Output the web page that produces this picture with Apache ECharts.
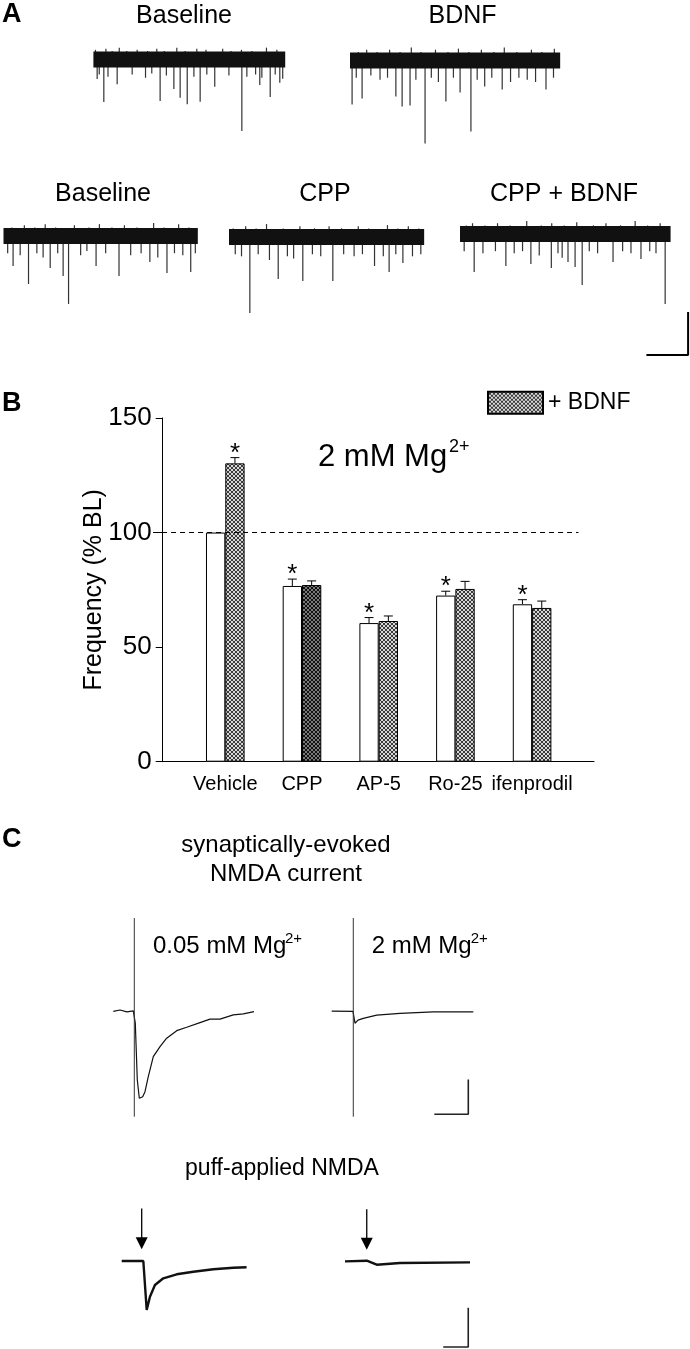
<!DOCTYPE html>
<html>
<head>
<meta charset="utf-8">
<script src="https://cdn.jsdelivr.net/npm/echarts@6/dist/echarts.min.js"></script>
<style>
  html, body { margin: 0; padding: 0; background: #fff; }
  #chart { width: 690px; height: 1349px; }
</style>
</head>
<body>
<div id="chart"></div>
<script>
const FONT = "'Liberation Sans', Arial, Helvetica, sans-serif";

// ---------- Panel B: frequency (% baseline) ----------
const groups = ['Vehicle', 'CPP', 'AP-5', 'Ro-25', 'ifenprodil'];
const ctrlMean = [100, 76.7, 60.5, 72.5, 68.7];
const ctrlErr = [0, 3.0, 2.4, 1.9, 2.0];
const bdnfMean = [130.2, 77.1, 61.4, 75.4, 67.1];
const bdnfErr = [2.5, 1.8, 2.2, 3.3, 3.0];
const ctrlStar = [0, 1, 1, 1, 1];
const bdnfStar = [1, 0, 0, 0, 0];
const yTicks = [0, 50, 100, 150];

// ---------- Panel A: sEPSC traces, [time s, amplitude pA] ----------
const aNames = ['Baseline', 'BDNF', 'Baseline', 'CPP', 'CPP + BDNF'];
const aLength = [4.6, 5.04, 4.66, 4.68, 5.05];
const aEvents1 = [[0.09,-9.1],[0.25,-19.8],[0.57,-11.5],[1.60,-19.3],[1.93,-13.7],[2.08,-17.8],[2.25,-20.8],[2.56,-19.6],[2.91,-12.7],[3.56,-33.3],[3.99,-11.9],[4.24,-17.4],[4.47,-10.8],
  [0.14,-7],[0.35,-8],[0.93,-7],[1.25,-8.5],[1.40,-6.5],[1.75,-7.5],[2.41,-8],[2.72,-7],[3.25,-7.5],[3.68,-8],[3.89,-7],[4.04,-8.5],[4.36,-7],[4.54,-9],
  [0.05,4.5],[0.30,5],[0.45,4],[0.62,5.5],[0.80,4],[1.05,4.5],[1.30,4],[1.52,5],[1.70,4],[2.00,5.5],[2.20,4],[2.48,5],[2.70,4.5],[3.10,5],[3.30,4],[3.55,4.5],[3.80,4],[4.15,5.5],[4.40,4.5]];
const aEvents2 = [[0.05,-20.5],[0.29,-17.7],[1.10,-16.7],[1.25,-21.4],[1.44,-20.9],[1.80,-38.6],[2.30,-19.1],[2.64,-14.9],[2.90,-33.0],[3.23,-12.1],[3.65,-13.5],[4.70,-13.5],
  [0.15,-8],[0.50,-7],[0.72,-9],[0.90,-8],[1.58,-9],[1.95,-8],[2.12,-10],[2.48,-8],[3.05,-9],[3.40,-8],[3.85,-10],[4.05,-8],[4.25,-9],[4.45,-10],[4.88,-8],
  [0.20,4],[0.40,5],[0.65,4],[0.95,5],[1.20,4],[1.47,6],[1.70,4],[2.05,5],[2.35,4],[2.60,5.5],[2.85,4],[3.15,5],[3.45,4],[3.70,6],[4.00,4],[4.35,5],[4.60,4],[4.90,5.5]];
const aEvents3 = [[0.23,-14.0],[0.60,-22.3],[1.12,-14.9],[1.43,-18.6],[1.56,-31.6],[2.22,-14.0],[2.77,-18.6],[3.51,-12.1],[3.92,-17.2],[4.49,-16.7],
  [0.10,-8],[0.40,-9],[0.80,-8],[0.95,-10],[1.30,-8],[1.85,-9],[2.00,-7],[2.45,-8],[3.05,-9],[3.30,-8],[3.70,-10],[4.10,-8],[4.30,-9],[4.60,-8],
  [0.20,4],[0.50,5],[0.75,4],[1.00,5.5],[1.25,4],[1.70,5],[2.05,4],[2.30,5.5],[2.60,4],[2.90,5],[3.20,4],[3.60,6],[3.85,4],[4.20,5.5],[4.45,4]];
const aEvents4 = [[0.50,-35.3],[0.97,-10.7],[1.18,-19.5],[1.77,-20.5],[2.49,-20.5],[3.49,-13.5],[3.84,-16.3],[4.17,-12.1],
  [0.15,-8],[0.30,-9],[0.70,-8],[1.40,-9],[1.55,-10],[2.00,-8],[2.20,-9],[2.75,-8],[3.00,-9],[3.20,-8],[3.70,-9],[4.00,-8],[4.40,-9],[4.60,-8],
  [0.10,4],[0.40,5],[0.65,4],[0.90,6],[1.30,4],[1.70,5],[2.05,4],[2.40,5],[2.70,4],[3.10,5],[3.35,4],[3.80,5.5],[4.05,4],[4.30,5],[4.55,4]];
const aEvents5 = [[0.34,-17.7],[1.10,-14.9],[1.70,-14.0],[2.19,-15.8],[2.59,-13.0],[2.76,-15.3],[2.93,-23.7],[3.67,-13.0],[4.34,-11.6],[4.92,-32.6],
  [0.10,-8],[0.55,-9],[0.85,-8],[1.30,-9],[1.50,-8],[1.90,-10],[2.35,-9],[2.45,-11],[3.10,-8],[3.30,-9],[3.90,-8],[4.10,-9],[4.55,-8],[4.70,-9],
  [0.15,4],[0.30,5],[0.60,4],[0.90,5],[1.20,4],[1.60,6],[1.95,4],[2.20,5],[2.50,4],[2.80,5.5],[3.20,4],[3.50,5],[3.85,4],[4.20,6],[4.50,4],[4.80,5]];
const aScaleBar = [[4.47,-56.3],[5.47,-56.3],[5.47,-36.3]]; // 1 s, 20 pA

// ---------- Panel C: evoked NMDA currents [ms, pA] ----------
const evLowMg = [[0,0],[19.7,2],[40,-0.7],[58.8,0.7],[64.7,-17],[70.6,-98.7],[76.5,-125],[86.5,-122.8],[93.2,-115.6],[102.9,-94],[117.6,-65.1],[137.4,-50.7],[157,-38.6],[186.5,-27.7],[215.9,-22.8],[255,-16.1],[284.4,-11.2],[313.8,-11.2],[352.9,-5.0],[382.4,-3.6],[413.8,-0.3]];
const evHighMg = [[0,0.4],[62.6,0],[68.5,-17],[77.4,-12.5],[92.9,-10],[132.4,-5.3],[200.9,-2.9],[298.8,-0.6],[416.5,-0.6]];
const evArtifact = [[134.5,-151.6]];
const evStim = [61.8, 63.5];
const evScaleBar = [[301.8,-148],[401.8,-148],[401.8,-98]]; // 100 ms, 50 pA

// puff-applied NMDA [s, pA]
const puffLowMg = [[0,0],[1.73,0],[2.0,-124.4],[2.26,-90.6],[2.66,-60.9],[3.33,-43.9],[4.4,-33.8],[5.73,-27.2],[7.33,-21.1],[8.93,-17.0],[9.99,-16.0]];
const puffHighMg = [[0,0],[1.74,1.8],[2.54,-8.4],[4.4,-4.1],[10.0,-2.5]];
const puffTime = [1.6, 1.74];
const puffScaleBar = [[7.86,-218.3],[9.86,-218.3],[9.86,-118.3]]; // 2 s, 100 pA

// ---------- helpers ----------
function hatch(bg, fg) {
  const c = document.createElement('canvas');
  c.width = 4; c.height = 4;
  const g = c.getContext('2d');
  g.fillStyle = bg; g.fillRect(0, 0, 4, 4);
  g.fillStyle = fg;
  [[0,0],[1,1],[2,2],[3,3],[3,0],[2,1],[1,2],[0,3]].forEach(p => g.fillRect(p[0], p[1], 1, 1));
  return { image: c, repeat: 'repeat' };
}
const hatchGrey = hatch('#d8d8d8', '#3a3a3a');
const hatchDark = hatch('#7a7a7a', '#111111');

const grids = [], xAxes = [], yAxes = [], series = [];
function addGrid(rect, xr, yr) {
  const i = grids.length;
  grids.push({ left: rect[0], top: rect[1], width: rect[2], height: rect[3] });
  xAxes.push({ gridIndex: i, type: 'value', min: xr[0], max: xr[1], show: false });
  yAxes.push({ gridIndex: i, type: 'value', min: yr[0], max: yr[1], show: false });
  return i;
}
function line(i, data, width, color) {
  series.push({ type: 'line', xAxisIndex: i, yAxisIndex: i, data: data, showSymbol: false, symbol: 'none',
    clip: false, silent: true, lineStyle: { width: width, color: color || '#111' } });
}

// ---------- Panel A grids (41.7 px/s, 2.15 px/pA) ----------
const aRects = [[93.4, 45.5, 192.1, 100], [350, 46.5, 210.2, 100], [3.5, 222, 194.3, 100], [229, 223, 195.2, 100], [460, 220, 228.3, 143]];
const aY = [[-40, 6.5], [-40, 6.5], [-40, 6.5], [-40, 6.5], [-60, 6.5]];
const aEvents = [aEvents1, aEvents2, aEvents3, aEvents4, aEvents5];
aRects.forEach((r, k) => {
  const i = addGrid(r, [0, r[2] / 41.7], aY[k]);
  line(i, [[0, 0], [aLength[k], 0]], 16, '#111');
  series.push({ type: 'bar', xAxisIndex: i, yAxisIndex: i, data: aEvents[k], barWidth: 1.2, barGap: '-100%',
    silent: true, itemStyle: { color: '#333' } });
  if (k === 4) line(i, aScaleBar, 2, '#000');
});

// ---------- Panel B bar chart ----------
const bi = grids.length;
grids.push({ left: 162.7, top: 418, width: 431.3, height: 343.7 });
xAxes.push({
  gridIndex: bi, type: 'value', min: -0.816, max: 4.807,
  axisLine: { show: true, onZero: false, lineStyle: { color: '#000', width: 1 } },
  axisTick: { show: false }, splitLine: { show: false },
  axisLabel: { customValues: [0, 1, 2, 3, 4], formatter: v => groups[Math.round(v)],
    color: '#000', fontSize: 20, fontFamily: FONT, margin: 13 }
});
yAxes.push({
  gridIndex: bi, type: 'value', min: 0, max: 150, interval: 50,
  axisLine: { show: true, onZero: false, lineStyle: { color: '#000', width: 1 } },
  axisTick: { show: true, length: 7, lineStyle: { color: '#000' } },
  splitLine: { show: false },
  axisLabel: { customValues: yTicks, color: '#000', fontSize: 26, fontFamily: FONT, margin: 11 },
  name: 'Frequency (% BL)', nameLocation: 'middle', nameGap: 56, nameMoveOverlap: false,
  nameTextStyle: { color: '#000', fontSize: 25, fontFamily: FONT }
});
const BW = 19.3;
series.push({
  type: 'bar', name: 'Control', xAxisIndex: bi, yAxisIndex: bi, barWidth: BW, barGap: '0%',
  data: ctrlMean.map((v, i) => [i, v]),
  itemStyle: { color: '#fff', borderColor: '#000', borderWidth: 1 },
  markLine: { silent: true, symbol: 'none', label: { show: false },
    lineStyle: { color: '#000', type: [5, 4], width: 1 },
    data: [[{ coord: [-0.816, 100] }, { coord: [4.73, 100] }]] }
});
series.push({
  type: 'bar', name: '+ BDNF', xAxisIndex: bi, yAxisIndex: bi, barWidth: BW, barGap: '0%',
  data: bdnfMean.map((v, i) => i === 1 ? { value: [i, v], itemStyle: { color: hatchDark } } : [i, v]),
  itemStyle: { color: hatchGrey, borderColor: '#000', borderWidth: 1 }
});
function errSeries(mean, err, star, side) {
  series.push({
    type: 'custom', xAxisIndex: bi, yAxisIndex: bi, silent: true, clip: false,
    data: mean.map((v, i) => [i, v, err[i], star[i]]),
    renderItem: (params, api) => {
      const x = api.value(0), m = api.value(1), e = api.value(2), s = api.value(3);
      const p0 = api.coord([x, m]);
      const p1 = api.coord([x, m + e]);
      const cx = p0[0] + side * BW / 2;
      const kids = [];
      if (e > 0) {
        kids.push({ type: 'line', shape: { x1: cx, y1: p0[1], x2: cx, y2: p1[1] }, style: { stroke: '#000', lineWidth: 1 } });
        kids.push({ type: 'line', shape: { x1: cx - 4.5, y1: p1[1], x2: cx + 4.5, y2: p1[1] }, style: { stroke: '#000', lineWidth: 1 } });
      }
      if (s) {
        kids.push({ type: 'text', x: cx, y: p1[1] - 4,
          style: { text: '*', fontSize: 26, fontFamily: FONT, fill: '#000', align: 'center', verticalAlign: 'middle' } });
      }
      return { type: 'group', children: kids };
    }
  });
}
errSeries(ctrlMean, ctrlErr, ctrlStar, -1);
errSeries(bdnfMean, bdnfErr, bdnfStar, 1);

// ---------- Panel C: evoked (0.34 px/ms, 0.6945 px/pA) ----------
const c1 = addGrid([113.3, 918, 141, 198.7], [0, 414.7], [-151.6, 134.5]);
line(c1, evLowMg, 1.2);
line(c1, [[evStim[0], evArtifact[0][0]], [evStim[0], evArtifact[0][1]]], 1, '#333');
const c2 = addGrid([331.7, 918, 141.6, 198.7], [0, 416.5], [-151.6, 134.5]);
line(c2, evHighMg, 1.2);
line(c2, [[evStim[1], evArtifact[0][0]], [evStim[1], evArtifact[0][1]]], 1, '#333');
line(c2, evScaleBar, 1.6, '#222');

// puff (12.5 px/s, 0.394 px/pA)
const p1 = addGrid([121.7, 1205, 125, 144], [0, 10], [-223.4, 142.1]);
line(p1, puffLowMg, 2.4);
const p2 = addGrid([345, 1205.7, 125, 144], [0, 10], [-223.4, 142.1]);
line(p2, puffHighMg, 2.4);
line(p2, puffScaleBar, 1.6, '#222');
[p1, p2].forEach((i, k) => {
  series.push({ type: 'line', xAxisIndex: i, yAxisIndex: i, silent: true, clip: false,
    lineStyle: { color: '#000', width: 1.3 }, itemStyle: { color: '#000' },
    data: [{ value: [puffTime[k], 133], symbol: 'none' },
           { value: [puffTime[k], 45], symbol: 'triangle', symbolSize: [12, 12], symbolRotate: 180 }] });
});

// ---------- text ----------
function txt(s, x, y, size, align, weight) {
  return { type: 'text', x: x, y: y, silent: true,
    style: { text: s, fontSize: size, fontFamily: FONT, fontWeight: weight || 'normal', fill: '#000',
      align: align || 'left', verticalAlign: 'middle' } };
}
const texts = [
  txt('A', 2, 14.5, 27, 'left', 'bold'),
  txt(aNames[0], 184, 16.3, 25, 'center'),
  txt(aNames[1], 462.5, 16.3, 25, 'center'),
  txt(aNames[2], 103, 194, 25, 'center'),
  txt(aNames[3], 325, 194, 25, 'center'),
  txt(aNames[4], 564, 194, 25, 'center'),
  txt('B', 2, 403.5, 27, 'left', 'bold'),
  txt('2 mM Mg', 318, 457.5, 31, 'left'),
  txt('2+', 449, 446.7, 18, 'left'),
  txt('C', 2, 840, 27, 'left', 'bold'),
  txt('synaptically-evoked', 286, 845.6, 24, 'center'),
  txt('NMDA current', 286, 874.3, 24, 'center'),
  txt('0.05 mM Mg', 153, 946.6, 24, 'left'),
  txt('2+', 285, 939, 15, 'left'),
  txt('2 mM Mg', 371.7, 946.6, 24, 'left'),
  txt('2+', 470.7, 939, 15, 'left'),
  txt('puff-applied NMDA', 282, 1168.6, 23, 'center')
];

const chart = echarts.init(document.getElementById('chart'));
chart.setOption({
  animation: false,
  backgroundColor: '#fff',
  grid: grids,
  xAxis: xAxes,
  yAxis: yAxes,
  legend: {
    data: ['+ BDNF'], left: 487, top: 390.7, padding: 0, icon: 'rect',
    itemWidth: 55, itemHeight: 22, selectedMode: false,
    textStyle: { color: '#000', fontSize: 23, fontFamily: FONT }
  },
  graphic: texts,
  series: series
});
</script>
</body>
</html>
